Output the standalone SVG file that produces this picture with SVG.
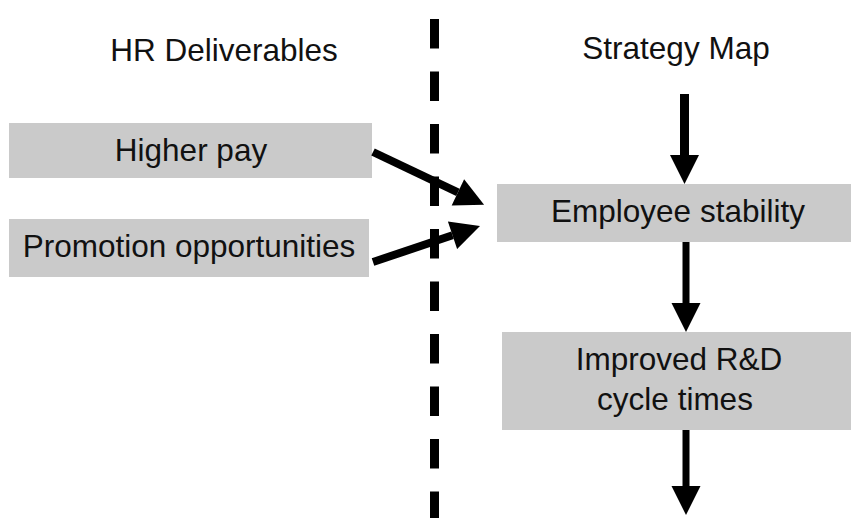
<svg xmlns="http://www.w3.org/2000/svg" width="851" height="518" viewBox="0 0 851 518">
  <style>
    .box { fill: #cacaca; }
    .t { font-family: "Liberation Sans", Arial, sans-serif; font-size: 31.5px; fill: #111; text-anchor: middle; }
    .conn { stroke: #000; fill: none; }
  </style>
  <defs>
    <marker id="ah" markerUnits="userSpaceOnUse" markerWidth="30" markerHeight="30" viewBox="0 0 29 30" refX="0" refY="15" orient="auto">
      <path d="M0,0.5 L29,15 L0,29.5 Z" fill="#000"/>
    </marker>
  </defs>
  <rect width="851" height="518" fill="#fff"/>

  <g id="divider">
    <line x1="434.5" y1="19" x2="434.5" y2="518" stroke="#000" stroke-width="9" stroke-dasharray="29.5 23"/>
  </g>

  <g id="header-hr">
    <text class="t" x="224" y="61">HR Deliverables</text>
  </g>
  <g id="header-strategy">
    <text class="t" x="676" y="59">Strategy Map</text>
  </g>

  <g id="node-higher-pay">
    <rect class="box" x="9" y="123" width="363" height="55"/>
    <text class="t" x="191" y="161">Higher pay</text>
  </g>
  <g id="node-promotion">
    <rect class="box" x="9" y="219" width="360" height="58"/>
    <text class="t" x="189" y="257">Promotion opportunities</text>
  </g>
  <g id="node-employee-stability">
    <rect class="box" x="497" y="184" width="354" height="58"/>
    <text class="t" x="678" y="222">Employee stability</text>
  </g>
  <g id="node-rd-cycle">
    <rect class="box" x="502" y="332" width="349" height="98"/>
    <text class="t" x="679" y="370">Improved  R&amp;D</text>
    <text class="t" x="675" y="410">cycle times</text>
  </g>

  <g id="connectors">
    <line class="conn" x1="684.5" y1="94" x2="684.5" y2="155" stroke-width="9" marker-end="url(#ah)"/>
    <line class="conn" x1="686" y1="242" x2="686" y2="303" stroke-width="7" marker-end="url(#ah)"/>
    <line class="conn" x1="686" y1="430" x2="686" y2="486" stroke-width="7" marker-end="url(#ah)"/>
    <line class="conn" x1="373" y1="152" x2="457.9" y2="192.4" stroke-width="8" marker-end="url(#ah)"/>
    <line class="conn" x1="373" y1="262" x2="452.5" y2="235.3" stroke-width="8" marker-end="url(#ah)"/>
  </g>
</svg>
